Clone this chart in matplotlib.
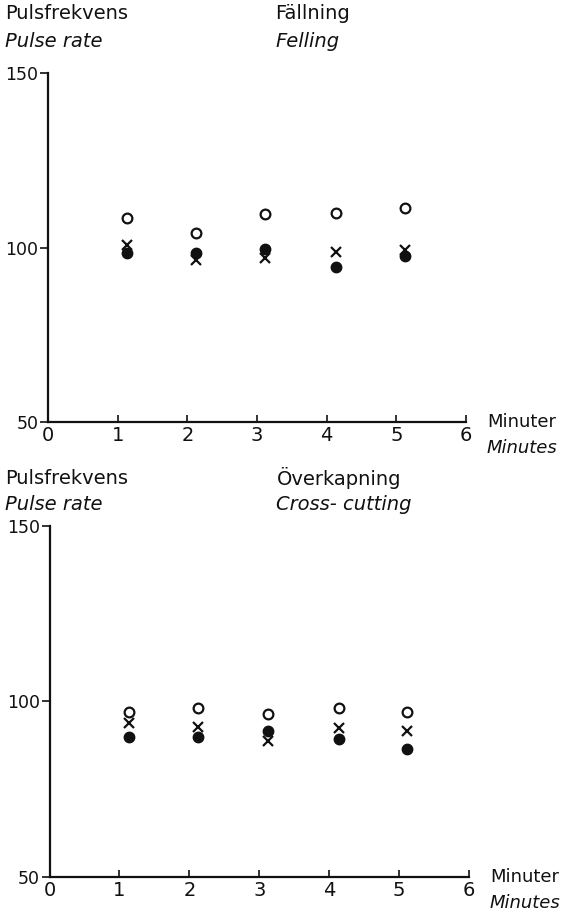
import matplotlib
matplotlib.use("Agg")
import matplotlib.pyplot as plt

# minute of measurement (points drawn just right of each whole minute)
minutes = [1.14, 2.13, 3.12, 4.14, 5.12]

# Fällning / Felling
fell_open = [108.5, 104.2, 109.6, 109.9, 111.3]
fell_cross = [100.6, 96.4, 97.0, 98.7, 99.3]
fell_filled = [98.4, 98.4, 99.6, 94.4, 97.6]

# Överkapning / Cross-cutting
cut_open = [97.0, 98.1, 96.4, 98.1, 97.0]
cut_cross = [93.9, 92.7, 88.7, 92.5, 91.6]
cut_filled = [89.9, 89.9, 91.6, 89.3, 86.5]

xticks = [0, 1, 2, 3, 4, 5, 6]
yticks = [50, 100, 150]

plt.rcParams["font.family"] = ["DejaVu Sans"]
INK = "#111111"

fig = plt.figure(figsize=(5.68, 9.14), dpi=100)


def panel(rect, title_sv, title_en, opened, crossed, filled, dy1, dy2):
    ax = fig.add_axes(rect)
    ax.set_xlim(0, 6)
    ax.set_ylim(50, 150)
    for side in ("top", "right"):
        ax.spines[side].set_visible(False)
    for side in ("left", "bottom"):
        ax.spines[side].set_linewidth(1.6)
        ax.spines[side].set_color(INK)
    ax.set_xticks(xticks)
    ax.set_yticks(yticks)
    ax.tick_params(axis="x", direction="in", length=5, width=1.2,
                   labelsize=14, pad=3, colors=INK)
    ax.tick_params(axis="y", direction="out", length=6, width=1.2,
                   labelsize=12.5, pad=1, colors=INK)

    ax.plot(minutes, opened, "o", ms=7, mfc="white", mec=INK, mew=1.6)
    ax.plot(minutes, crossed, "x", ms=7, mec=INK, mew=1.6)
    ax.plot(minutes, filled, "o", ms=7.5, mfc=INK, mec=INK)

    ax.text(1.05, 0.0, "Minuter", transform=ax.transAxes, fontsize=13,
            ha="left", va="center", color=INK)
    ax.text(1.05, -0.075, "Minutes", transform=ax.transAxes, fontsize=13,
            style="italic", ha="left", va="center", color=INK)

    x0 = rect[0]
    top = rect[1] + rect[3]
    fig.text(5 / 568, top + dy1, "Pulsfrekvens", fontsize=14,
             ha="left", va="center", color=INK)
    fig.text(5 / 568, top + dy2, "Pulse rate", fontsize=14,
             style="italic", ha="left", va="center", color=INK)
    fig.text(x0 + 227 / 568, top + dy1, title_sv, fontsize=14,
             ha="left", va="center", color=INK)
    fig.text(x0 + 227 / 568, top + dy2, title_en, fontsize=14,
             style="italic", ha="left", va="center", color=INK)
    return ax


panel([48 / 568, 0.5383, 418 / 568, 0.3818],
      "Fällning", "Felling", fell_open, fell_cross, fell_filled,
      0.0646, 0.034)
panel([49.5 / 568, 0.0405, 419.5 / 568, 0.3840],
      "Överkapning", "Cross- cutting", cut_open, cut_cross, cut_filled,
      0.0525, 0.023)

fig.savefig("out.png", dpi=100, facecolor="white")
